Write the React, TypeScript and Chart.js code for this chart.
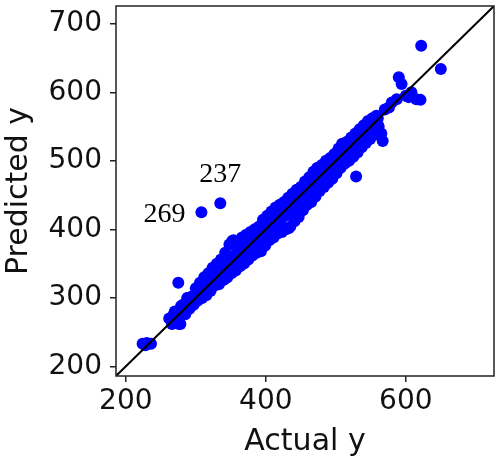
import React, { useEffect, useRef } from "react";
import { Chart, registerables } from "chart.js";

Chart.register(...registerables);

const actual: number[] = [
  224, 230, 236, 228,
  265, 270, 275, 272, 278, 268, 280, 285, 290, 288, 275,
  292, 295, 300, 302, 305, 300, 310, 308, 312, 315, 318, 320, 322, 325, 328,
  330, 332, 335, 338, 340, 342, 345, 348, 350, 352, 355, 358, 360, 362, 365,
  368, 370, 372, 375, 378, 380, 382, 385, 388, 390, 392, 395, 398, 400, 402,
  405, 408, 410, 412, 415, 418, 420, 422, 425, 428, 430, 432, 435, 438, 440,
  442, 445, 448, 450, 452, 455, 458, 460, 462, 465, 468, 470, 472, 475, 478,
  480, 482, 485, 488, 490, 492, 495, 498, 500, 505, 508, 510, 512, 515, 518,
  520, 522, 525, 528, 530, 532, 535, 538, 540, 542, 545, 548, 550, 552, 555,
  558, 560, 565, 567, 529, 335, 308,
  570, 576, 580, 587, 590, 594, 600, 604, 608, 615, 621, 622, 650,
  262, 266, 270, 273, 276, 279, 282, 285, 288, 291, 294, 297, 300, 303, 306,
  309, 312, 315, 318, 321, 324, 327, 330, 333, 336, 339, 342, 345, 348, 351,
  354, 357, 360, 363, 366, 369, 372, 375, 378, 381, 384, 387, 390, 393, 396,
  399, 402, 405, 408, 411, 414, 417, 420, 423, 426, 429, 432, 435, 438, 441,
  444, 447, 450, 453, 456, 459, 462, 465, 468, 471, 474, 477, 480, 483, 486,
  489, 492, 495, 498, 501, 504, 507, 510, 513, 516, 519, 522, 525, 528, 531,
  534, 537, 540, 543, 546, 549, 552, 555, 558, 561,
  352, 391, 433, 452, 509, 473, 476, 561,
];
const predicted: number[] = [
  233, 234, 233, 231,
  268, 272, 278, 265, 262, 275, 285, 292, 296, 300, 322,
  288, 290, 300, 310, 315, 296, 305, 320, 325, 330, 322, 312, 335, 318, 340,
  325, 345, 330, 335, 350, 328, 340, 355, 345, 360, 348, 365, 355, 350, 370,
  360, 375, 365, 362, 385, 372, 390, 378, 392, 382, 395, 380, 400, 390, 410,
  398, 415, 405, 395, 420, 410, 425, 415, 430, 420, 435, 425, 440, 428, 445,
  435, 450, 440, 455, 445, 460, 448, 465, 455, 470, 475, 462, 480, 470, 485,
  478, 475, 490, 480, 492, 485, 498, 490, 505, 500, 510, 505, 520, 512, 525,
  515, 520, 530, 535, 525, 540, 538, 545, 535, 548, 550, 540, 555, 545, 560,
  552, 562, 540, 529, 477, 438, 425,
  575, 578, 585, 590, 622, 612, 595, 593, 600, 590, 589, 668, 634,
  270, 262, 280, 268, 262, 288, 290, 276, 300, 284, 302, 290, 314, 296, 322,
  300, 330, 304, 336, 310, 344, 318, 350, 320, 356, 326, 366, 330, 378, 336,
  384, 340, 380, 346, 388, 350, 392, 356, 396, 362, 400, 366, 404, 368, 414,
  376, 420, 384, 426, 388, 432, 394, 436, 396, 440, 400, 446, 404, 452, 412,
  458, 418, 462, 428, 470, 436, 476, 440, 484, 448, 490, 456, 494, 462, 500,
  468, 504, 474, 510, 482, 518, 490, 524, 496, 528, 500, 534, 506, 540, 512,
  546, 520, 552, 526, 558, 532, 562, 538, 566, 550,
  383, 369, 402, 430, 525, 489, 460, 550,
];

const axisMin = 186;
const axisMax = 726;
const xTicks = [200, 400, 600];
const yTicks = [200, 300, 400, 500, 600, 700];
const annotations = [
  { label: "269", x: 308, y: 425, dx: -16, dy: 10, align: "right" },
  { label: "237", x: 335, y: 438, dx: 0, dy: -21, align: "center" },
];

const FONT = "DejaVu Sans";

export default function App() {
  const ref = useRef<HTMLCanvasElement | null>(null);
  useEffect(() => {
    if (!ref.current) return;
    const points = actual.map((a, i) => ({ x: a, y: predicted[i] }));
    const framePlugin = {
      id: "frame",
      afterDatasetsDraw(chart: any) {
        const { ctx, chartArea, scales } = chart;
        ctx.save();
        ctx.strokeStyle = "#222";
        ctx.lineWidth = 1.5;
        ctx.strokeRect(chartArea.left, chartArea.top, chartArea.right - chartArea.left, chartArea.bottom - chartArea.top);
        ctx.fillStyle = "#000";
        ctx.font = "28px 'Liberation Serif'";
        ctx.textBaseline = "alphabetic";
        for (const an of annotations) {
          const px = scales.x.getPixelForValue(an.x);
          const py = scales.y.getPixelForValue(an.y);
          ctx.textAlign = an.align as CanvasTextAlign;
          ctx.fillText(an.label, px + an.dx, py + an.dy);
        }
        ctx.restore();
      },
    };
    const chart = new Chart(ref.current, {
      type: "scatter",
      data: {
        datasets: [
          {
            type: "line",
            data: [
              { x: axisMin, y: axisMin },
              { x: axisMax, y: axisMax },
            ],
            borderColor: "#000",
            borderWidth: 2,
            pointRadius: 0,
            order: 0,
          } as any,
          {
            data: points,
            backgroundColor: "#0000ff",
            borderColor: "#0000ff",
            pointRadius: 6,
            borderWidth: 0,
            order: 1,
          },
        ],
      },
      options: {
        animation: false,
        responsive: false,
        layout: { padding: { top: 4, right: 4, left: 0, bottom: 0 } },
        plugins: { legend: { display: false }, tooltip: { enabled: false } },
        scales: {
          x: {
            type: "linear",
            min: axisMin,
            max: axisMax,
            afterBuildTicks: (s: any) => {
              s.ticks = xTicks.map((v) => ({ value: v }));
            },
            afterFit: (s: any) => {
              s.height = 86;
              s.paddingLeft = 0;
              s.paddingRight = 0;
            },
            border: { display: false },
            grid: { drawOnChartArea: false, drawTicks: true, tickLength: 6, color: "#222", lineWidth: 1.5 },
            ticks: { font: { family: FONT, size: 28 }, color: "#111", padding: 3, maxRotation: 0 },
            title: { display: true, text: "Actual y", font: { family: FONT, size: 30 }, color: "#111", padding: { top: 0, bottom: 2 } },
          },
          y: {
            type: "linear",
            min: axisMin,
            max: axisMax,
            afterBuildTicks: (s: any) => {
              s.ticks = yTicks.map((v) => ({ value: v }));
            },
            afterFit: (s: any) => {
              s.width = 116;
              s.paddingTop = 0;
              s.paddingBottom = 0;
            },
            border: { display: false },
            grid: { drawOnChartArea: false, drawTicks: true, tickLength: 6, color: "#222", lineWidth: 1.5 },
            ticks: { font: { family: FONT, size: 28 }, color: "#111", padding: 8 },
            title: { display: true, text: "Predicted y", font: { family: FONT, size: 30 }, color: "#111", padding: { top: 1, bottom: 0 } },
          },
        },
      },
      plugins: [framePlugin],
    });
    return () => chart.destroy();
  }, []);
  return (
    <div style={{ position: "absolute", left: 0, top: 0, width: 500, height: 462, background: "#fff" }}>
      <canvas ref={ref} width={500} height={462} style={{ display: "block" }} />
    </div>
  );
}
